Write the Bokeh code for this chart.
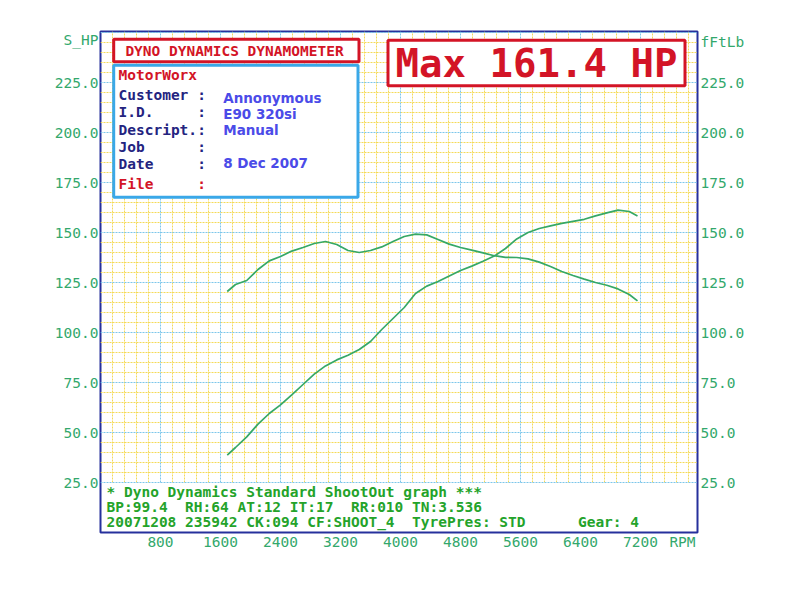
import re
import numpy as np
from bokeh.plotting import figure
from bokeh.models import FixedTicker, Range1d, LinearAxis
from bokeh.core.properties import value
from bokeh.embed import file_html
from bokeh.resources import INLINE

# ---------------- data ----------------
rpm = [1690, 1800, 1950, 2100, 2250, 2400, 2550, 2700, 2850, 3000, 3150, 3300,
       3450, 3600, 3750, 3900, 4050, 4200, 4350, 4500, 4650, 4800, 4950, 5100,
       5250, 5400, 5550, 5700, 5850, 6000, 6150, 6300, 6450, 6600, 6750, 6900,
       7050, 7160]
torque = [120.5, 124.0, 126.0, 131.5, 135.8, 138.0, 140.7, 142.5, 144.5, 145.5,
          144.0, 141.0, 140.0, 141.0, 142.8, 145.5, 148.0, 149.2, 148.8, 146.5,
          144.2, 142.5, 141.2, 139.8, 138.4, 137.6, 137.5, 136.8, 135.2, 133.0,
          130.5, 128.5, 126.7, 125.0, 123.6, 121.8, 119.0, 115.8]
power = [38.7, 42.5, 47.8, 54.2, 59.5, 63.8, 68.8, 74.0, 79.2, 83.3, 86.3, 88.6,
         91.5, 95.5, 101.5, 107.0, 112.5, 119.5, 123.2, 125.5, 128.3, 131.0,
         133.2, 135.6, 138.2, 142.0, 146.8, 150.0, 152.0, 153.3, 154.6, 155.6,
         156.6, 158.3, 159.8, 161.2, 160.5, 158.3]

x_ticks = [800, 1600, 2400, 3200, 4000, 4800, 5600, 6400, 7200]
x_tick_labels = ["800", "1600", "2400", "3200", "4000", "4800", "5600", "6400", "7200"]
y_ticks = [25, 50, 75, 100, 125, 150, 175, 200, 225]
y_tick_labels = ["25.0", "50.0", "75.0", "100.0", "125.0", "150.0", "175.0", "200.0", "225.0"]

header_title = "DYNO DYNAMICS DYNAMOMETER"
max_text = "Max 161.4 HP"
shop = "MotorWorx"
field_names = ["Customer", "I.D.", "Descript.", "Job", "Date"]
field_values = ["Annonymous", "E90 320si", "Manual", "8 Dec 2007"]
footer_lines = ["* Dyno Dynamics Standard ShootOut graph ***",
                "BP:99.4  RH:64 AT:12 IT:17  RR:010 TN:3.536",
                "20071208 235942 CK:094 CF:SHOOT_4  TyrePres: STD      Gear: 4"]

# ---------------- styling ----------------
GREEN_AX = "#33a86c"
GREEN_TXT = "#24a32a"
CURVE = "#36a866"
RED = "#d31426"
NAVY = "#24247f"
VALBLUE = "#4b4be8"
CYAN = "#3aa8e8"
YELLOW = "#f4da58"
LBLUE = "#7cc6ea"
MONO = "DejaVu Sans Mono"
CHAR_W = 8.73  # advance of 14.5px DejaVu Sans Mono

X0, X1 = 0, 7960
Y0, Y1 = 0, 250.5


def X(px):  # picture pixel -> rpm
    return (px - 100) * 40.0 / 3.0


def Y(py):  # picture pixel -> value
    return (532 - py) / 2.0


p = figure(width=792, height=600, x_range=Range1d(X0, X1), y_range=Range1d(Y0, Y1),
           output_backend="svg", toolbar_location=None, title=None,
           min_border_left=100, min_border_right=95, min_border_top=31, min_border_bottom=68)
p.xgrid.visible = False
p.ygrid.visible = False
p.background_fill_color = "white"
p.border_fill_color = "white"
p.outline_line_color = "#26309c"
p.outline_line_width = 2


def style_axis(ax, ticks, labels, standoff):
    ax.ticker = FixedTicker(ticks=ticks)
    ax.major_label_overrides = {t: l for t, l in zip(ticks, labels)}
    ax.axis_line_color = None
    ax.major_tick_line_color = None
    ax.minor_tick_line_color = None
    ax.major_tick_in = 0
    ax.major_tick_out = 0
    ax.major_label_standoff = standoff
    ax.major_label_text_font = MONO
    ax.major_label_text_font_size = "14.5px"
    ax.major_label_text_color = GREEN_AX


style_axis(p.xaxis[0], x_ticks + [7760], x_tick_labels + ["RPM"], 1)
style_axis(p.yaxis[0], y_ticks + [246.5], y_tick_labels + ["S_HP"], 2)
right = LinearAxis()
style_axis(right, y_ticks + [245.5], y_tick_labels + ["fFtLb"], 3)
p.add_layout(right, "right")

# ---------------- grid (only above 25) ----------------
minor_x = [v for v in np.arange(160, X1, 160) if v % 800 != 0]
minor_y = [v for v in np.arange(30, 250, 5) if v % 25 != 0]
major_x = list(np.arange(800, X1, 800))
major_y = list(np.arange(25, 251, 25))

p.segment(x0=minor_x, y0=25, x1=minor_x, y1=Y1, line_color=YELLOW, line_width=1, line_dash="2 1")
p.segment(x0=X0, y0=minor_y, x1=X1, y1=minor_y, line_color=YELLOW, line_width=1, line_dash="2 1")
p.segment(x0=major_x, y0=25, x1=major_x, y1=Y1, line_color=LBLUE, line_width=1, line_dash="2 1")
p.segment(x0=X0, y0=major_y, x1=X1, y1=major_y, line_color=LBLUE, line_width=1, line_dash="2 1")

# ---------------- curves ----------------
p.line(rpm, torque, line_color=CURVE, line_width=1.7)
p.line(rpm, power, line_color=CURVE, line_width=1.7)

# ---------------- boxes ----------------
p.quad(left=[X(113.2)], right=[X(358.5)], top=[Y(38.8)], bottom=[Y(61.2)],
       fill_color="white", line_color=RED, line_width=3)
p.quad(left=[X(113.2)], right=[X(357.5)], top=[Y(64.8)], bottom=[Y(196.8)],
       fill_color="white", line_color=CYAN, line_width=3)
p.quad(left=[X(387.5)], right=[X(684.5)], top=[Y(39.8)], bottom=[Y(85.2)],
       fill_color="white", line_color=RED, line_width=3)


def txt(xs, ys, texts, color, size="14.5px", font=MONO, align="left", style="bold"):
    p.text(x=[X(v) for v in xs], y=[Y(v) for v in ys], text=texts,
           text_font=value(font), text_font_size=size, text_font_style=style,
           text_color=color, text_align=align, text_baseline="middle")


txt([234], [50.5], [header_title], RED, align="center")
txt([536], [63], [max_text], RED, size="39px", align="center")
txt([118], [74.5], [shop], RED)
label_y = [94, 111.5, 129, 146, 163.5]
txt([118] * 5, label_y, field_names, NAVY)
txt([201] * 5, label_y, [":"] * 5, NAVY, align="center")
txt([118], [183.5], ["File"], RED)
txt([201], [183.5], [":"], RED, align="center")
txt([222.7] * 4, [97, 113.5, 129.5, 162], field_values, VALBLUE, size="13.5px", font="DejaVu Sans")

# footer: place each word at its monospace column (SVG collapses runs of spaces)
fx, fy, ft = [], [], []
for line, ly in zip(footer_lines, [491, 506, 521]):
    for m in re.finditer(r"\S+", line):
        fx.append(106 + m.start() * CHAR_W)
        fy.append(ly)
        ft.append(m.group())
txt(fx, fy, ft, GREEN_TXT)

open("out.html", "w").write(file_html(p, INLINE))
